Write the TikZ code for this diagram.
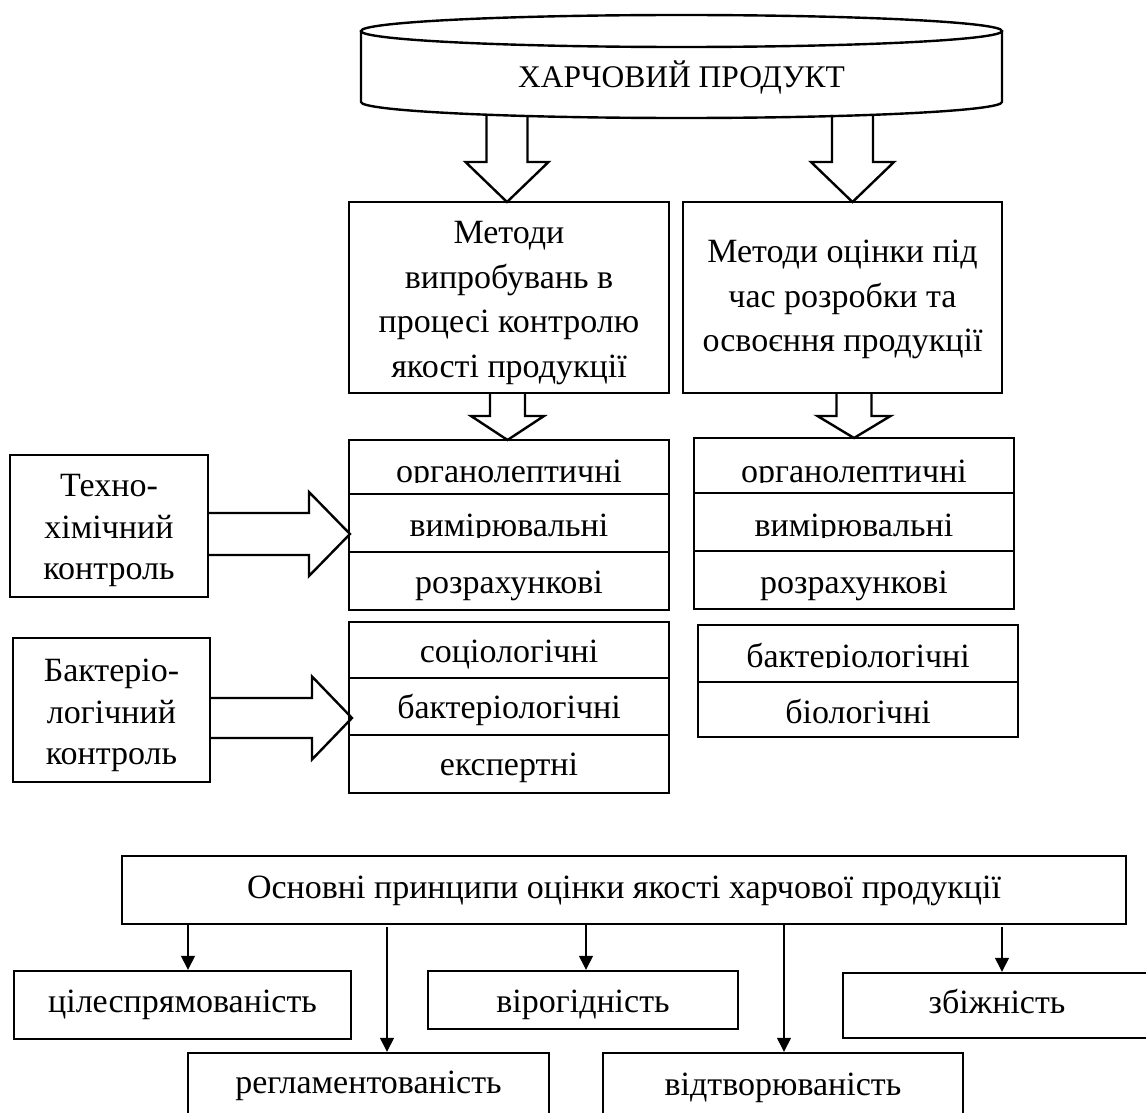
\documentclass[tikz,border=0pt]{standalone}
\usepackage{fontspec}
\setmainfont{Liberation Serif}
\usetikzlibrary{arrows.meta}
\newcommand\blkdown[6]{\draw[blk] ({#1-#5},#2) -- ({#1-#5},#3) -- ({#1-#6},#3) -- (#1,#4) -- ({#1+#6},#3) -- ({#1+#5},#3) -- ({#1+#5},#2);}
\newcommand\blkright[6]{\draw[blk] (#2,{#1-#5}) -- (#3,{#1-#5}) -- (#3,{#1-#6}) -- (#4,#1) -- (#3,{#1+#6}) -- (#3,{#1+#5}) -- (#2,{#1+#5});}
\begin{document}
\begin{tikzpicture}[x=1pt,y=-1pt,
  every node/.style={font=\fontsize{34}{44.5}\selectfont},
  thk/.style={line width=2.4pt},
  blk/.style={line width=2.4pt,line join=miter},
  box/.style={draw,line width=2.4pt,align=center,inner sep=0pt},
  sbox/.style={draw,line width=2.4pt,inner sep=0pt,text depth=0pt,text height=#1},
  row/.style={sbox=#1,minimum width=320pt},
  plain/.style={align=center,inner sep=0pt},
  arr/.style={line width=1.3pt,-{Triangle[width=14pt,length=14pt]}},
  cover/.style={fill=white,draw=none}]
\fill[white] (0,0) rectangle (1146,1113);
\useasboundingbox (0,0) rectangle (1146,1113);

% cylinder
\draw[thk] (681.5,31) ellipse [x radius=320.5,y radius=16];
\draw[thk] (361,31) -- (361,102) arc[start angle=180,end angle=0,x radius=320.5,y radius=16] -- (1002,31);
\node[plain,anchor=base,font=\fontsize{31.5}{40}\selectfont] (cyl) at (681.5,88) {ХАРЧОВИЙ ПРОДУКТ};

% top block arrows
\blkdown{507}{116}{162}{202}{20.5}{41.5}
\blkdown{852.5}{115}{162}{202}{20.5}{41.5}

% method boxes
\node[box,minimum width=320pt,minimum height=191pt] (m1) at (509,297.5) {\rule{0pt}{33pt}Методи\\випробувань в\\процесі контролю\\якості продукції};
\node[box,minimum width=319pt,minimum height=191pt] (m2) at (842.5,297.5) {\rule{0pt}{27pt}Методи оцінки під\\час розробки та\\освоєння продукції};

% lower block arrows
\blkdown{507.5}{393}{416}{440}{17.5}{36.5}
\blkdown{854}{393}{416}{438}{17.5}{36.5}

% left lists
\node[row=30pt,minimum height=54pt] (r11) at (509,467) {органолептичні};
\node[row=26pt,minimum height=58pt] (r12) at (509,523) {вимірювальні};
\node[row=24pt,minimum height=58pt] (r13) at (509,581) {розрахункові};
\node[row=24pt,minimum height=56pt] (r21) at (509,650) {соціологічні};
\node[row=23pt,minimum height=57pt] (r22) at (509,706.5) {бактеріологічні};
\node[row=22pt,minimum height=58pt] (r23) at (509,764) {експертні};

% right lists
\node[row=33pt,minimum height=55pt] (q11) at (854,465.5) {органолептичні};
\node[row=28pt,minimum height=58pt] (q12) at (854,522) {вимірювальні};
\node[row=26pt,minimum height=58pt] (q13) at (854,580) {розрахункові};
\node[row=27pt,minimum height=57pt] (q21) at (858,653.5) {бактеріологічні};
\node[row=27pt,minimum height=55pt] (q22) at (858,709.5) {біологічні};

% clipped descenders as in the reference
\fill[cover] (352,483) rectangle (666,492);
\fill[cover] (352,537.5) rectangle (666,550);
\fill[cover] (697,483) rectangle (1011,491);
\fill[cover] (697,537.5) rectangle (1011,549);
\fill[cover] (701,668) rectangle (1015,680);

% control boxes
\node[box,minimum width=198pt,minimum height=142pt] (tech) at (109,526) {};
\node[plain,anchor=north,font=\fontsize{34}{41.5}\selectfont] (techt) at (109,474.5) {Техно-\\хімічний\\контроль};
\node[box,minimum width=197pt,minimum height=144pt] (bact) at (111.5,710) {};
\node[plain,anchor=north,font=\fontsize{34}{41.5}\selectfont] (bactt) at (111.5,658.8) {Бактеріо-\\логічний\\контроль};

\blkright{534}{208}{309}{350}{21}{42}
\blkright{718}{210}{312}{352}{20}{41.5}

% principles
\node[sbox=16pt,minimum width=1004pt,minimum height=68pt] (main) at (624,890) {Основні принципи оцінки якості харчової продукції};
\node[sbox=14pt,minimum width=337pt,minimum height=68pt] (cil) at (182.5,1005) {цілеспрямованість};
\node[sbox=24pt,minimum width=310pt,minimum height=58pt] (vir) at (583,1000) {вірогідність};
\node[sbox=15pt,minimum width=308pt,minimum height=65pt] (zbi) at (997,1005.5) {збіжність};
\node[sbox=17pt,minimum width=361pt,minimum height=63pt] (regl) at (368.5,1084.5) {регламентованість};
\node[sbox=21pt,minimum width=360pt,minimum height=63pt] (vidt) at (783,1084.5) {відтворюваність};

\coordinate (e1) at ([xshift=5.5pt]cil.north);
\coordinate (e2) at ([xshift=18.5pt]regl.north);
\coordinate (e3) at ([xshift=3pt]vir.north);
\coordinate (e4) at ([xshift=1pt]vidt.north);
\coordinate (e5) at ([xshift=5pt]zbi.north);
\draw[arr] (e1 |- main.south) -- (e1);
\draw[arr] ([yshift=-2pt]e2 |- main.south) -- (e2);
\draw[arr] (e3 |- main.south) -- (e3);
\draw[arr] (e4 |- main.south) -- (e4);
\draw[arr] ([yshift=-2pt]e5 |- main.south) -- (e5);
\end{tikzpicture}
\end{document}
